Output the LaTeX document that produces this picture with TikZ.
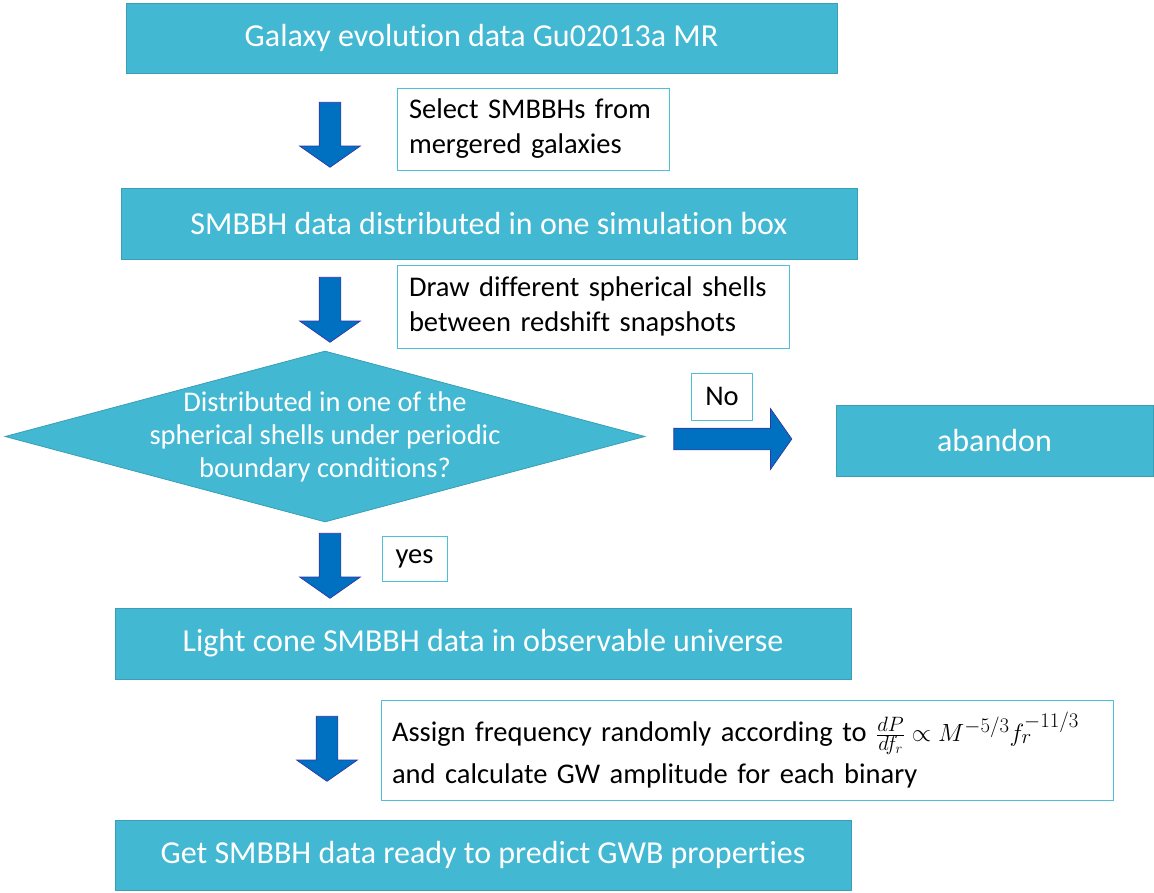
\documentclass[tikz,border=0pt]{standalone}
\usepackage{fontspec}
\setmainfont{Carlito}[Ligatures=NoCommon]
\usetikzlibrary{shapes.geometric, shapes.arrows}
\definecolor{stepcol}{HTML}{42B8D3}
\definecolor{stepedge}{HTML}{3A9EB6}
\definecolor{notecol}{HTML}{4CC0D8}
\definecolor{arrowcol}{HTML}{0070C0}
\definecolor{arrowedge}{HTML}{3535A5}
\tikzset{
  stage/.style={rectangle, draw=stepedge, fill=stepcol, line width=0.8pt,
                inner sep=0pt, text=white, font=\fontsize{32}{38}\selectfont},
  decision/.style={diamond, draw=stepedge, fill=stepcol, line width=0.8pt,
                   inner sep=0pt, aspect=3.74},
  dectext/.style={text=white, align=center, inner sep=0pt,
                  font=\fontsize{28.5}{33}\selectfont},
  note/.style={rectangle, draw=notecol, fill=white, line width=0.9pt,
               inner sep=0pt, align=left, text=black,
               font=\fontsize{28.5}{35}\selectfont},
  flow arr/.style={single arrow, draw=arrowedge, fill=arrowcol, line width=0.7pt,
                   inner xsep=0pt, inner ysep=10.5pt, minimum height=65pt,
                   minimum width=60pt, single arrow head extend=19.5pt,
                   single arrow tip angle=110},
}

\begin{document}
\begin{tikzpicture}[x=1pt, y=-1pt]
    \useasboundingbox (0,0) rectangle (1154,893);

    \node[stage, minimum width=711pt, minimum height=70pt] (galaxy) at (481.5,38) {Galaxy evolution data Gu02013a MR};
    \node[stage, minimum width=736pt, minimum height=71pt] (box) at (489,223.5) {SMBBH data distributed in one simulation box};
    \node[decision, minimum width=640pt, minimum height=171pt] (shell) at (325,436.5) {};
    \node[dectext] (shelltxt) at (shell.center) {Distributed in one of the\\spherical shells under periodic\\boundary conditions?};
    \node[stage, minimum width=317pt, minimum height=71pt] (abandon) at (994.5,440.5) {abandon};
    \node[stage, minimum width=736pt, minimum height=71pt] (cone) at (483,643.5) {Light cone SMBBH data in observable universe};
    \node[stage, minimum width=736pt, minimum height=70pt] (ready) at (483,855) {Get SMBBH data ready to predict GWB properties};

    \node[flow arr, rotate=-90] (a_select) at (330,131) {};
    \node[flow arr, rotate=-90] (a_shell) at (330,306) {};
    \node[flow arr, minimum height=118pt] (a_no) at (729,439) {};
    \node[flow arr, rotate=-90] (a_yes) at (330,562) {};
    \node[flow arr, rotate=-90] (a_freq) at (327,745) {};

    \node[note, minimum width=272pt, minimum height=82pt, text width=248pt] (n_select) at (533,129) {Select SMBBHs from\\mergered galaxies};
    \node[note, minimum width=392pt, minimum height=83pt, text width=368pt] (n_shell) at (593,306.5) {Draw different spherical shells\\between redshift snapshots};
    \node[note, minimum width=61pt, minimum height=47pt, align=center] (n_no) at (722,396.5) {No};
    \node[note, minimum width=65pt, minimum height=45pt, align=center] (n_yes) at (414.5,558.5) {yes};
    \node[note, minimum width=732pt, minimum height=100pt, text width=710pt] (n_freq) at (747,750)
        {Assign frequency randomly according to $\frac{dP}{df_r}\propto M^{-5/3}f_r^{-11/3}$\\[7pt]and calculate GW amplitude for each binary};
\end{tikzpicture}
\end{document}
